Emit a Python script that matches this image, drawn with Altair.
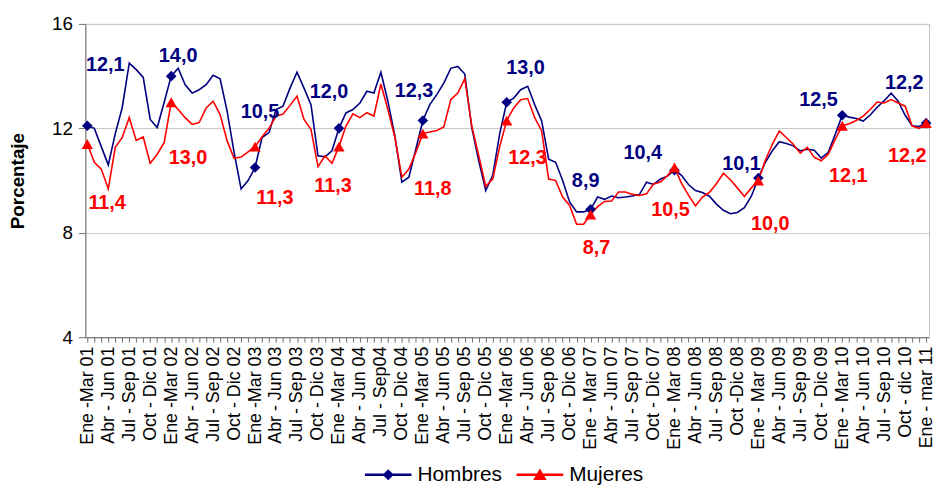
import json
import altair as alt
import pandas as pd

periodos = [
    "Ene -Mar 01", "Abr - Jun 01", "Jul - Sep 01", "Oct - Dic 01",
    "Ene -Mar 02", "Abr - Jun 02", "Jul - Sep 02", "Oct - Dic 02",
    "Ene -Mar 03", "Abr - Jun 03", "Jul - Sep 03", "Oct - Dic 03",
    "Ene -Mar 04", "Abr - Jun 04", "Jul - Sep04", "Oct - Dic 04",
    "Ene -Mar 05", "Abr - Jun 05", "Jul - Sep 05", "Oct - Dic 05",
    "Ene -Mar 06", "Abr - Jun 06", "Jul - Sep 06", "Oct - Dic 06",
    "Ene - Mar 07", "Abr - Jun 07", "Jul - Sep 07", "Oct - Dic 07",
    "Ene - Mar 08", "Abr - Jun 08", "Jul - Sep 08", "Oct -Dic 08",
    "Ene - Mar 09", "Abr - Jun 09", "Jul - Sep 09", "Oct - Dic 09",
    "Ene - Mar 10", "Abr - Jun 10", "Jul - Sep 10", "Oct - dic 10",
    "Ene - mar 11",
]

hombres = [
    12.1, 12.0, 11.3, 10.6, 11.8, 12.8, 14.5, 14.25, 13.95, 12.34,
    12.03, 13.0, 14.0, 14.3, 13.67, 13.35, 13.48, 13.67, 14.03, 13.9,
    12.66, 11.08, 9.68, 10.0, 10.5, 11.65, 11.84, 12.72, 12.85, 13.54,
    14.15, 13.54, 12.91, 10.95, 10.91, 11.14, 12.0, 12.59, 12.72, 12.97,
    13.42, 13.35, 14.15, 13.04, 11.71, 9.94, 10.13, 11.2, 12.3, 12.91,
    13.29, 13.73, 14.3, 14.37, 14.08, 12.03, 10.76, 9.62, 10.2, 11.8,
    13.0, 13.16, 13.48, 13.61, 12.91, 12.28, 10.82, 10.7, 10.0, 9.18,
    8.8, 8.8, 8.9, 9.37, 9.28, 9.41, 9.34, 9.37, 9.41, 9.47,
    9.94, 9.85, 10.06, 10.17, 10.4, 10.2, 9.85, 9.62, 9.54, 9.4,
    9.1, 8.86, 8.73, 8.78, 8.96, 9.4, 10.1, 10.7, 11.14, 11.49,
    11.42, 11.33, 11.14, 11.2, 11.16, 10.86, 11.08, 11.77, 12.5, 12.43,
    12.38, 12.28, 12.51, 12.81, 13.06, 13.35, 13.04, 12.5, 12.1, 12.07,
    12.2,
]

mujeres = [
    11.4, 10.7, 10.44, 9.68, 11.27, 11.65, 12.41, 11.54, 11.67, 10.66,
    11.01, 11.46, 13.0, 12.72, 12.41, 12.15, 12.22, 12.78, 13.04, 12.53,
    11.52, 10.85, 10.9, 11.1, 11.3, 11.68, 12.0, 12.47, 12.55, 12.88,
    13.23, 12.34, 11.96, 10.53, 10.95, 10.66, 11.3, 12.09, 12.56, 12.41,
    12.6, 12.47, 13.7, 12.72, 11.65, 10.13, 10.44, 11.08, 11.8, 11.86,
    11.92, 12.05, 13.1, 13.35, 13.9, 12.09, 10.95, 9.78, 10.06, 11.3,
    12.3, 12.78, 13.1, 13.14, 12.41, 11.9, 10.06, 10.0, 9.37, 9.05,
    8.33, 8.33, 8.7, 9.0, 9.2, 9.22, 9.56, 9.56, 9.47, 9.43,
    9.49, 9.87, 9.94, 10.19, 10.5, 9.9, 9.44, 9.03, 9.37, 9.55,
    9.88, 10.28, 10.03, 9.72, 9.39, 9.72, 10.0, 10.78, 11.39, 11.9,
    11.65, 11.39, 11.05, 11.27, 10.89, 10.76, 11.01, 11.58, 12.1, 12.18,
    12.3, 12.47, 12.72, 13.01, 12.97, 13.1, 12.97, 12.85, 12.09, 12.0,
    12.2,
]

series = ["Hombres", "Mujeres"]
colores = ["#000080", "#FF0000"]

# label placement offsets (pixels) for the Ene-Mar data labels
dx_h = [18, 7, 5, -10, -9, 19, -5, -32, -17, -24, -22]
dy_h = [-61, -20, -56, -37, -30, -34, -28, -17, -14, -15, -40]
dx_m = [20, 17, 20, -6, 10, 21, 6, -4, 12, 6, -19]
dy_m = [60, 56, 52, 40, 56, 38, 34, 43, 44, 51, 33]

rows = []
for i, v in enumerate(hombres):
    rows.append({"i": i, "serie": "Hombres", "valor": v})
for i, v in enumerate(mujeres):
    rows.append({"i": i, "serie": "Mujeres", "valor": v})
df = pd.DataFrame(rows)

mk = []
for k, i in enumerate(range(0, len(hombres), 12)):
    mk.append({"i": i, "serie": "Hombres", "valor": hombres[i], "dx": dx_h[k], "dy": dy_h[k]})
    mk.append({"i": i, "serie": "Mujeres", "valor": mujeres[i], "dx": dx_m[k], "dy": dy_m[k]})
dm = pd.DataFrame(mk)

FONT = "Liberation Sans"
label_expr = "datum.value % 3 == 0 ? " + json.dumps(periodos) + "[datum.value / 3] : ''"

x_enc = alt.X(
    "i:Q",
    scale=alt.Scale(domain=[-0.283, 120.42], nice=False, zero=False),
    axis=alt.Axis(
        values=list(range(0, 121)),
        labelExpr=label_expr,
        labelAngle=-90,
        labelAlign="right",
        labelBaseline="middle",
        labelOverlap=False,
        labelFont=FONT,
        labelFontSize=18,
        labelColor="#000000",
        labelPadding=4,
        tickSize=5,
        tickColor="#707070",
        domainColor="#707070",
        grid=False,
        title=None,
    ),
)
y_enc = alt.Y(
    "valor:Q",
    scale=alt.Scale(domain=[4, 16], nice=False, zero=False),
    axis=alt.Axis(
        values=[4, 8, 12, 16],
        labelFont=FONT,
        labelFontSize=19,
        labelColor="#000000",
        labelPadding=6,
        tickSize=7,
        tickColor="#707070",
        domainColor="#707070",
        gridColor="#c8c8c8",
        title="Porcentaje",
        titleFont=FONT,
        titleFontSize=19,
        titleFontWeight="bold",
        titleColor="#000000",
        titleX=-68,
        titleY=158,
        titleAngle=270,
        titleAlign="center",
        titleBaseline="middle",
    ),
)

base = alt.Chart(df)
line_h = base.transform_filter("datum.serie == 'Hombres'").mark_line(
    color=colores[0], strokeWidth=1.6).encode(x=x_enc, y=y_enc, order="i:Q")
line_m = base.transform_filter("datum.serie == 'Mujeres'").mark_line(
    color=colores[1], strokeWidth=1.6).encode(x=x_enc, y=y_enc, order="i:Q")

mbase = alt.Chart(dm)
pt_h = mbase.transform_filter("datum.serie == 'Hombres'").mark_point(
    shape="diamond", filled=True, size=115, color=colores[0], opacity=1).encode(x=x_enc, y=y_enc)
pt_m = mbase.transform_filter("datum.serie == 'Mujeres'").mark_point(
    shape="triangle-up", filled=True, size=130, color=colores[1], opacity=1).encode(x=x_enc, y=y_enc)

lab_calc = "replace(format(datum.valor, '.1f'), '.', ',')"
txt_h = mbase.transform_filter("datum.serie == 'Hombres'").transform_calculate(
    lab=lab_calc).mark_text(
    font=FONT, fontSize=20, fontWeight="bold", color=colores[0],
    align="center", baseline="middle",
    dx=alt.expr("datum.dx"), dy=alt.expr("datum.dy")).encode(x=x_enc, y=y_enc, text="lab:N")
txt_m = mbase.transform_filter("datum.serie == 'Mujeres'").transform_calculate(
    lab=lab_calc).mark_text(
    font=FONT, fontSize=20, fontWeight="bold", color=colores[1],
    align="center", baseline="middle",
    dx=alt.expr("datum.dx"), dy=alt.expr("datum.dy")).encode(x=x_enc, y=y_enc, text="lab:N")

sym_h = "M-1,-0.05H1V0.05H-1Z M0,-0.24L0.24,0L0,0.24L-0.24,0Z"
sym_m = "M-1,-0.05H1V0.05H-1Z M0,-0.27L0.29,0.22L-0.29,0.22Z"

# legend-only layer (no visible marks in the plot)
leg = mbase.transform_filter("false").mark_point(filled=True, opacity=1).encode(
    x=x_enc, y=y_enc,
    fill=alt.Fill("serie:N", scale=alt.Scale(domain=series, range=colores),
                  legend=alt.Legend(
                      title=None, orient="none", direction="horizontal",
                      legendX=282, legendY=431,
                      labelFont=FONT, labelFontSize=21, labelColor="#000000",
                      symbolSize=2209, symbolOpacity=1, symbolStrokeWidth=0,
                      labelOffset=6, columnPadding=14)),
    shape=alt.Shape("serie:N", scale=alt.Scale(domain=series, range=[sym_h, sym_m])),
)

chart = alt.layer(line_h, line_m, pt_h, pt_m, txt_h, txt_m, leg).properties(
    width=851, height=316,
    autosize=alt.AutoSizeParams(type="none"),
    padding={"left": 78, "top": 14, "right": 6, "bottom": 147},
    background="white",
).configure_view(stroke="#c0c0c0", strokeWidth=1)

chart.save("out.html", embed_options={"renderer": "svg", "actions": False})
